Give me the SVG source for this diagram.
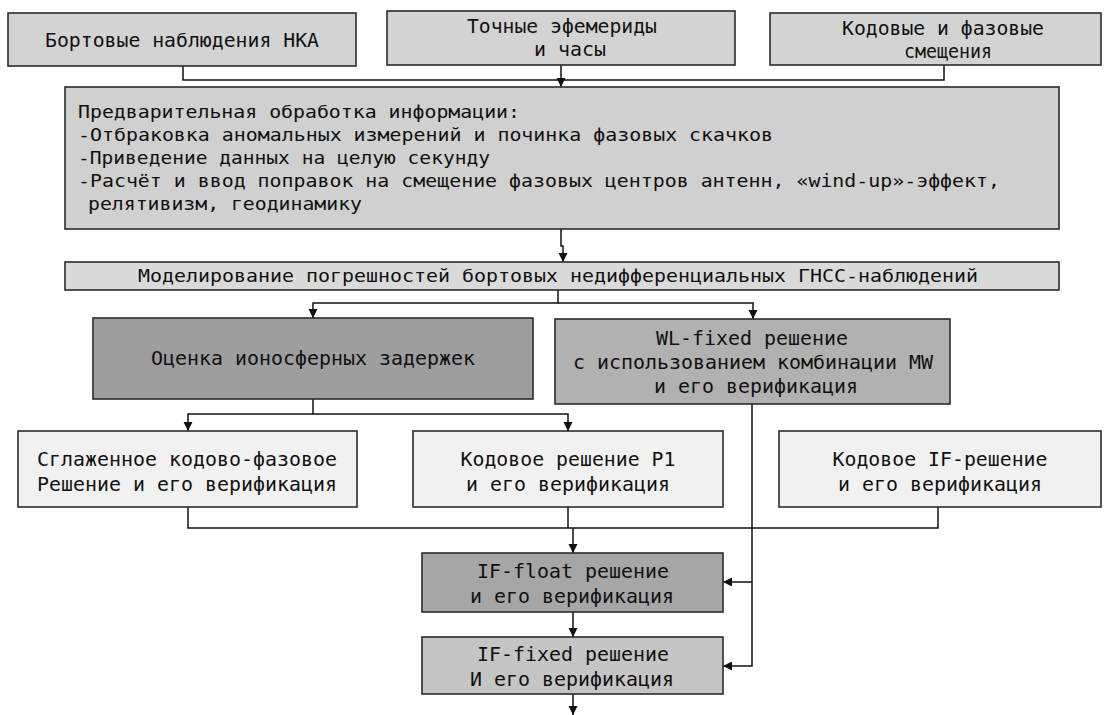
<svg xmlns="http://www.w3.org/2000/svg" width="1108" height="715" viewBox="0 0 1108 715">
<defs>
<marker id="ah" viewBox="0 0 10 10" refX="10" refY="5" markerWidth="9" markerHeight="10" markerUnits="userSpaceOnUse" orient="auto">
<path d="M0,0 L10,5 L0,10 z" fill="#111"/>
</marker>
<style>
.box{stroke:#2b2b2b;stroke-width:1.6}
.t{font-family:"DejaVu Sans Mono","Liberation Mono",monospace;fill:#111}
.c{text-anchor:middle}
.f19{font-size:19px}
.f18{font-size:18px}
.con{fill:none;stroke:#111;stroke-width:1.5}
.g1{fill:#d3d3d3}
.g2{fill:#d0d0d0}
.g3{fill:#dadada}
.dk{fill:#9e9e9e}
.md{fill:#b1b1b1}
.lt{fill:#f1f1f1}
.iff{fill:#a6a6a6}
.ifx{fill:#c5c5c5}
</style>
</defs>
<rect width="1108" height="715" fill="#ffffff"/>

<g id="connectors">
<path class="con" d="M183,66 V80 H944 V65"/>
<path class="con" d="M561,65 V87" marker-end="url(#ah)"/>
<path class="con" d="M561,229 V246 H563 V262" marker-end="url(#ah)"/>
<path class="con" d="M558,290 V303 H313 V318" marker-end="url(#ah)"/>
<path class="con" d="M558,303 H753 V319" marker-end="url(#ah)"/>
<path class="con" d="M313,399 V414 H188 V431" marker-end="url(#ah)"/>
<path class="con" d="M313,414 H568 V431" marker-end="url(#ah)"/>
<path class="con" d="M188,507 V528 H938 V507"/>
<path class="con" d="M568,507 V528"/>
<path class="con" d="M573,528 V553" marker-end="url(#ah)"/>
<path class="con" d="M752,404 V666 H723" marker-end="url(#ah)"/>
<path class="con" d="M752,582 H723" marker-end="url(#ah)"/>
<path class="con" d="M573,612 V637" marker-end="url(#ah)"/>
<path class="con" d="M573,694 V715" marker-end="url(#ah)"/>
</g>

<g id="n-board">
<rect class="box g1" x="8" y="13" width="348" height="53"/>
<text class="t f19 c" x="182" y="47" textLength="274" lengthAdjust="spacingAndGlyphs">Бортовые наблюдения НКА</text>
</g>

<g id="n-ephem">
<rect class="box g1" x="387" y="11" width="348" height="54"/>
<text class="t f19 c" x="562" y="33" textLength="190" lengthAdjust="spacingAndGlyphs">Точные эфемериды</text>
<text class="t f19 c" x="570" y="56" textLength="72" lengthAdjust="spacingAndGlyphs">и часы</text>
</g>

<g id="n-bias">
<rect class="box g1" x="770" y="13" width="331" height="52"/>
<text class="t f19 c" x="943" y="35" textLength="202" lengthAdjust="spacingAndGlyphs">Кодовые и фазовые</text>
<text class="t f19 c" x="948" y="58" textLength="88" lengthAdjust="spacingAndGlyphs">смещения</text>
</g>

<g id="n-pre">
<rect class="box g2" x="65" y="87" width="994" height="142"/>
<text class="t f18" x="78" y="118" textLength="442" lengthAdjust="spacingAndGlyphs">Предварительная обработка информации:</text>
<text class="t f18" x="78" y="141" textLength="695" lengthAdjust="spacingAndGlyphs">-Отбраковка аномальных измерений и починка фазовых скачков</text>
<text class="t f18" x="78" y="164" textLength="412" lengthAdjust="spacingAndGlyphs">-Приведение данных на целую секунду</text>
<text class="t f18" x="78" y="187" textLength="922" lengthAdjust="spacingAndGlyphs">-Расчёт и ввод поправок на смещение фазовых центров антенн, «wind-up»-эффект,</text>
<text class="t f18" x="88" y="210" textLength="274" lengthAdjust="spacingAndGlyphs">релятивизм, геодинамику</text>
</g>

<g id="n-model">
<rect class="box g3" x="65" y="262" width="994" height="28"/>
<text class="t f18 c" x="558" y="282" textLength="840" lengthAdjust="spacingAndGlyphs">Моделирование погрешностей бортовых недифференциальных ГНСС-наблюдений</text>
</g>

<g id="n-iono">
<rect class="box dk" x="93" y="318" width="440" height="81"/>
<text class="t f19 c" x="313" y="365" textLength="324" lengthAdjust="spacingAndGlyphs">Оценка ионосферных задержек</text>
</g>

<g id="n-wl">
<rect class="box md" x="555" y="319" width="395" height="85"/>
<text class="t f19 c" x="752" y="345" textLength="192" lengthAdjust="spacingAndGlyphs">WL-fixed решение</text>
<text class="t f19 c" x="753" y="369" textLength="360" lengthAdjust="spacingAndGlyphs">с использованием комбинации MW</text>
<text class="t f19 c" x="756" y="393" textLength="204" lengthAdjust="spacingAndGlyphs">и его верификация</text>
</g>

<g id="n-smooth">
<rect class="box lt" x="18" y="431" width="339" height="76"/>
<text class="t f19 c" x="187" y="466" textLength="300" lengthAdjust="spacingAndGlyphs">Сглаженное кодово-фазовое</text>
<text class="t f19 c" x="187" y="491" textLength="300" lengthAdjust="spacingAndGlyphs">Решение и его верификация</text>
</g>

<g id="n-p1">
<rect class="box lt" x="413" y="431" width="310" height="76"/>
<text class="t f19 c" x="568" y="466" textLength="215" lengthAdjust="spacingAndGlyphs">Кодовое решение P1</text>
<text class="t f19 c" x="568" y="491" textLength="204" lengthAdjust="spacingAndGlyphs">и его верификация</text>
</g>

<g id="n-ifcode">
<rect class="box lt" x="779" y="431" width="322" height="76"/>
<text class="t f19 c" x="940" y="466" textLength="215" lengthAdjust="spacingAndGlyphs">Кодовое IF-решение</text>
<text class="t f19 c" x="940" y="491" textLength="204" lengthAdjust="spacingAndGlyphs">и его верификация</text>
</g>

<g id="n-iffloat">
<rect class="box iff" x="422" y="553" width="301" height="59"/>
<text class="t f19 c" x="573" y="578" textLength="192" lengthAdjust="spacingAndGlyphs">IF-float решение</text>
<text class="t f19 c" x="572" y="603" textLength="204" lengthAdjust="spacingAndGlyphs">и его верификация</text>
</g>

<g id="n-iffixed">
<rect class="box ifx" x="422" y="637" width="301" height="57"/>
<text class="t f19 c" x="573" y="661" textLength="192" lengthAdjust="spacingAndGlyphs">IF-fixed решение</text>
<text class="t f19 c" x="572" y="686" textLength="204" lengthAdjust="spacingAndGlyphs">И его верификация</text>
</g>
</svg>
